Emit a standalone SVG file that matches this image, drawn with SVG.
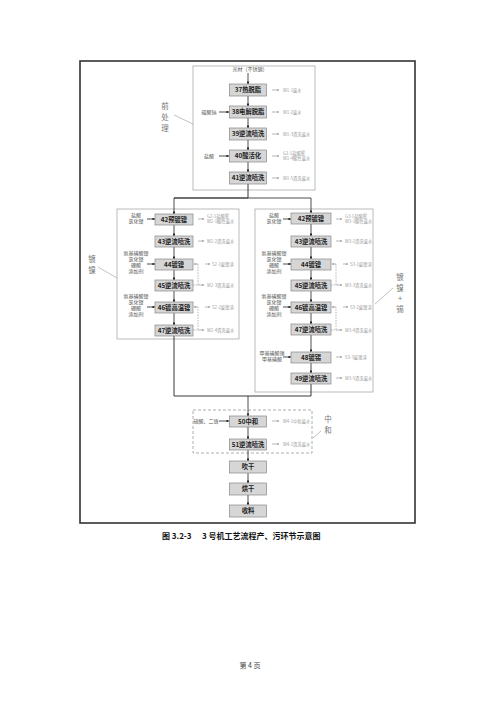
<svg xmlns="http://www.w3.org/2000/svg" width="500" height="707" viewBox="0 0 500 707">
<defs>
<marker id="ah" viewBox="0 0 6 6" refX="5.5" refY="3" markerWidth="3.5" markerHeight="3.5" orient="auto"><path d="M0,0 L6,3 L0,6 Z" fill="#222"/></marker>
<marker id="ahg" viewBox="0 0 6 6" refX="5.5" refY="3" markerWidth="3" markerHeight="3" orient="auto"><path d="M0,0 L6,3 L0,6 Z" fill="#888"/></marker>
</defs>
<style>
.frame{fill:none;stroke:#333;stroke-width:1.6}
.grp{fill:none;stroke:#aaa;stroke-width:0.8}
.grpd{fill:none;stroke:#999;stroke-width:0.8;stroke-dasharray:3,2}
.nb{fill:#d6d6d6;stroke:#888;stroke-width:0.7}
.nt{font-family:"Noto Sans CJK SC","Liberation Serif",serif;font-weight:bold;font-size:6.3px;fill:#222;text-anchor:middle}
.ln{fill:none;stroke:#222;stroke-width:0.9}
.la{fill:none;stroke:#222;stroke-width:0.8;marker-end:url(#ah)}
.ra{fill:none;stroke:#888;stroke-width:0.6;marker-end:url(#ahg)}
.rd{fill:none;stroke:#888;stroke-width:0.6;stroke-dasharray:1.5,1.2}
.lt{font-family:"Noto Sans CJK SC","Liberation Serif",serif;font-size:5px;fill:#555;text-anchor:middle}
.rt{font-family:"Noto Sans CJK SC","Liberation Sans",sans-serif;font-size:4.3px;fill:#999}
.vt{font-family:"Noto Sans CJK SC","Liberation Serif",serif;font-size:7.5px;fill:#777;text-anchor:middle}
.pt{fill:none;stroke:#999;stroke-width:0.6}
.cap{font-family:"Noto Sans CJK SC","Liberation Serif",serif;font-weight:bold;font-size:8px;fill:#111}
</style>
<rect width="500" height="707" fill="#fff"/>
<rect class="frame" x="80" y="61" width="335" height="462"/>

<g id="groups">
<rect class="grp" x="193" y="66" width="122" height="124"/>
<rect class="grp" x="117" y="209" width="122" height="130"/>
<rect class="grp" x="255" y="209" width="118" height="183"/>
<rect class="grpd" x="193" y="410" width="119" height="43"/>
<text class="vt" x="165" y="109">前</text><text class="vt" x="165" y="120">处</text><text class="vt" x="165" y="131">理</text>
<line class="pt" x1="174" y1="115" x2="193" y2="124"/>
<text class="vt" x="92" y="262">镀</text><text class="vt" x="92" y="273">镍</text>
<line class="pt" x1="98" y1="267" x2="117" y2="278"/>
<text class="vt" x="400" y="280">镀</text><text class="vt" x="400" y="291">镍</text><text class="vt" x="400" y="301">+</text><text class="vt" x="400" y="312">锡</text>
<line class="pt" x1="375" y1="304" x2="393" y2="288"/>
<text class="vt" x="328" y="422">中</text><text class="vt" x="328" y="433">和</text>
<line class="pt" x1="313" y1="438" x2="321" y2="431"/>
</g>

<g id="connectors">
<text class="lt" x="250" y="71">光材（不锈钢）</text>
<line class="la" x1="248" y1="73" x2="248" y2="84"/>
<line class="la" x1="248" y1="96" x2="248" y2="106"/>
<line class="la" x1="248" y1="118" x2="248" y2="128"/>
<line class="la" x1="248" y1="140" x2="248" y2="150"/>
<line class="la" x1="248" y1="162" x2="248" y2="172"/>
<polyline class="ln" points="248,184 248,198"/>
<polyline class="la" points="174,198 311,198 311,213"/>
<polyline class="la" points="248,198 174,198 174,214"/>
<line class="la" x1="174" y1="225" x2="174" y2="236"/>
<line class="la" x1="174" y1="247" x2="174" y2="259"/>
<line class="la" x1="174" y1="270" x2="174" y2="280"/>
<line class="la" x1="174" y1="291" x2="174" y2="302"/>
<line class="la" x1="174" y1="313" x2="174" y2="325"/>
<line class="la" x1="311" y1="224" x2="311" y2="236"/>
<line class="la" x1="311" y1="247" x2="311" y2="259"/>
<line class="la" x1="311" y1="270" x2="311" y2="280"/>
<line class="la" x1="311" y1="291" x2="311" y2="302"/>
<line class="la" x1="311" y1="313" x2="311" y2="324"/>
<line class="la" x1="311" y1="335" x2="311" y2="352"/>
<line class="la" x1="311" y1="363" x2="311" y2="373"/>
<polyline class="ln" points="174,336 174,396 311,396 311,384"/>
<line class="la" x1="248" y1="396" x2="248" y2="416"/>
<line class="la" x1="248" y1="427" x2="248" y2="439"/>
<line class="la" x1="248" y1="450" x2="248" y2="461"/>
<line class="la" x1="248" y1="473" x2="248" y2="483"/>
<line class="la" x1="248" y1="495" x2="248" y2="505"/>
<line class="la" x1="219" y1="112" x2="229" y2="112"/>
<line class="la" x1="219" y1="156" x2="229" y2="156"/>
<line class="la" x1="147" y1="219" x2="155" y2="219"/>
<line class="la" x1="147" y1="264" x2="155" y2="264"/>
<line class="la" x1="147" y1="307" x2="155" y2="307"/>
<line class="la" x1="283" y1="219" x2="291" y2="219"/>
<line class="la" x1="283" y1="264" x2="291" y2="264"/>
<line class="la" x1="283" y1="307" x2="291" y2="307"/>
<line class="la" x1="283" y1="357" x2="291" y2="357"/>
<line class="la" x1="219" y1="421" x2="229" y2="421"/>
<line class="ra" x1="272" y1="90" x2="279" y2="90"/>
<line class="ra" x1="272" y1="112" x2="279" y2="112"/>
<line class="ra" x1="272" y1="134" x2="279" y2="134"/>
<line class="ra" x1="272" y1="156" x2="279" y2="156"/>
<line class="ra" x1="272" y1="178" x2="279" y2="178"/>
<line class="ra" x1="198" y1="219" x2="204" y2="219"/>
<line class="ra" x1="198" y1="241" x2="204" y2="241"/>
<line class="ra" x1="205" y1="264" x2="210" y2="264"/>
<line class="ra" x1="198" y1="285" x2="204" y2="285"/>
<line class="ra" x1="205" y1="307" x2="210" y2="307"/>
<line class="ra" x1="198" y1="330" x2="204" y2="330"/>
<polyline class="rd" points="193,285 198,285 198,264"/>
<line class="ra" x1="198" y1="264" x2="194" y2="264"/>
<polyline class="rd" points="193,330 198,330 198,307"/>
<line class="ra" x1="198" y1="307" x2="194" y2="307"/>
<line class="ra" x1="336" y1="219" x2="342" y2="219"/>
<line class="ra" x1="336" y1="241" x2="342" y2="241"/>
<line class="ra" x1="343" y1="264" x2="348" y2="264"/>
<line class="ra" x1="336" y1="285" x2="342" y2="285"/>
<line class="ra" x1="343" y1="307" x2="348" y2="307"/>
<line class="ra" x1="336" y1="330" x2="342" y2="330"/>
<line class="ra" x1="336" y1="357" x2="342" y2="357"/>
<line class="ra" x1="336" y1="378" x2="342" y2="378"/>
<polyline class="rd" points="331,285 336,285 336,264"/>
<line class="ra" x1="336" y1="264" x2="332" y2="264"/>
<polyline class="rd" points="331,330 336,330 336,307"/>
<line class="ra" x1="336" y1="307" x2="332" y2="307"/>
<line class="ra" x1="272" y1="421" x2="279" y2="421"/>
<line class="ra" x1="272" y1="444" x2="279" y2="444"/>
</g>

<g id="labels">
<text class="lt" x="209" y="114">碳酸钠</text>
<text class="lt" x="209" y="158">盐酸</text>
<text class="lt" x="136" y="217">盐酸</text><text class="lt" x="136" y="223">氯化镍</text>
<text class="lt" x="136" y="255">氨基磺酸镍</text><text class="lt" x="136" y="261">氯化镍</text><text class="lt" x="136" y="267">硼酸</text><text class="lt" x="136" y="273">添加剂</text>
<text class="lt" x="136" y="298">氨基磺酸镍</text><text class="lt" x="136" y="304">氯化镍</text><text class="lt" x="136" y="310">硼酸</text><text class="lt" x="136" y="316">添加剂</text>
<text class="lt" x="274" y="217">盐酸</text><text class="lt" x="274" y="223">氯化镍</text>
<text class="lt" x="274" y="255">氨基磺酸镍</text><text class="lt" x="274" y="261">氯化镍</text><text class="lt" x="274" y="267">硼酸</text><text class="lt" x="274" y="273">添加剂</text>
<text class="lt" x="274" y="298">氨基磺酸镍</text><text class="lt" x="274" y="304">氯化镍</text><text class="lt" x="274" y="310">硼酸</text><text class="lt" x="274" y="316">添加剂</text>
<text class="lt" x="272" y="355">甲基磺酸锡</text><text class="lt" x="272" y="361">甲基磺酸</text>
<text class="lt" x="206" y="423">硫酸、二铬</text>
<text class="rt" x="283" y="91.5">W1-1废水</text>
<text class="rt" x="283" y="113.5">W1-2废水</text>
<text class="rt" x="283" y="135.5">W1-3清洗废水</text>
<text class="rt" x="283" y="154.5">G1-1盐酸雾</text><text class="rt" x="283" y="160">W1-4酸性废水</text>
<text class="rt" x="283" y="179.5">W1-5清洗废水</text>
<text class="rt" x="207" y="217.5">G2-1盐酸雾</text><text class="rt" x="207" y="223">W2-1酸性废水</text>
<text class="rt" x="207" y="242.5">W2-2清洗废水</text>
<text class="rt" x="212" y="265.5">S2-1废镍渣</text>
<text class="rt" x="207" y="286.5">W2-3清洗废水</text>
<text class="rt" x="212" y="308.5">S2-2废镍渣</text>
<text class="rt" x="207" y="331.5">W2-4清洗废水</text>
<text class="rt" x="345" y="217.5">G3-1盐酸雾</text><text class="rt" x="345" y="223">W3-1酸性废水</text>
<text class="rt" x="345" y="242.5">W3-2清洗废水</text>
<text class="rt" x="350" y="265.5">S3-1废镍渣</text>
<text class="rt" x="345" y="286.5">W3-3清洗废水</text>
<text class="rt" x="350" y="308.5">S3-2废镍渣</text>
<text class="rt" x="345" y="331.5">W3-4清洗废水</text>
<text class="rt" x="345" y="358.5">S3-3废锡渣</text>
<text class="rt" x="345" y="379.5">W3-5清洗废水</text>
<text class="rt" x="283" y="422.5">W4-1中和废水</text>
<text class="rt" x="283" y="445.5">W4-2清洗废水</text>
</g>

<g id="n37"><rect class="nb" x="229.5" y="84" width="37" height="12"/><text class="nt" x="248" y="92.3">37热脱脂</text></g>
<g id="n38"><rect class="nb" x="229.5" y="106" width="37" height="12"/><text class="nt" x="248" y="114.3">38电解脱脂</text></g>
<g id="n39"><rect class="nb" x="229.5" y="128" width="37" height="12"/><text class="nt" x="248" y="136.3">39逆流喷洗</text></g>
<g id="n40"><rect class="nb" x="229.5" y="150" width="37" height="12"/><text class="nt" x="248" y="158.3">40酸活化</text></g>
<g id="n41"><rect class="nb" x="229.5" y="172" width="37" height="12"/><text class="nt" x="248" y="180.3">41逆流喷洗</text></g>

<g id="l42"><rect class="nb" x="155" y="214" width="38" height="11"/><text class="nt" x="174" y="221.8">42预镀镍</text></g>
<g id="l43"><rect class="nb" x="155" y="236" width="38" height="11"/><text class="nt" x="174" y="243.8">43逆流喷洗</text></g>
<g id="l44"><rect class="nb" x="155" y="259" width="38" height="11"/><text class="nt" x="174" y="266.8">44镀镍</text></g>
<g id="l45"><rect class="nb" x="155" y="280" width="38" height="11"/><text class="nt" x="174" y="287.8">45逆流喷洗</text></g>
<g id="l46"><rect class="nb" x="155" y="302" width="38" height="11"/><text class="nt" x="174" y="309.8">46镀高温镍</text></g>
<g id="l47"><rect class="nb" x="155" y="325" width="38" height="11"/><text class="nt" x="174" y="332.8">47逆流喷洗</text></g>

<g id="r42"><rect class="nb" x="291" y="213" width="40" height="11"/><text class="nt" x="311" y="220.8">42预镀镍</text></g>
<g id="r43"><rect class="nb" x="291" y="236" width="40" height="11"/><text class="nt" x="311" y="243.8">43逆流喷洗</text></g>
<g id="r44"><rect class="nb" x="291" y="259" width="40" height="11"/><text class="nt" x="311" y="266.8">44镀镍</text></g>
<g id="r45"><rect class="nb" x="291" y="280" width="40" height="11"/><text class="nt" x="311" y="287.8">45逆流喷洗</text></g>
<g id="r46"><rect class="nb" x="291" y="302" width="40" height="11"/><text class="nt" x="311" y="309.8">46镀高温镍</text></g>
<g id="r47"><rect class="nb" x="291" y="324" width="40" height="11"/><text class="nt" x="311" y="331.8">47逆流喷洗</text></g>
<g id="r48"><rect class="nb" x="291" y="352" width="40" height="11"/><text class="nt" x="311" y="359.8">48镀锡</text></g>
<g id="r49"><rect class="nb" x="291" y="373" width="40" height="11"/><text class="nt" x="311" y="380.8">49逆流喷洗</text></g>

<g id="n50"><rect class="nb" x="229.5" y="416" width="37" height="11"/><text class="nt" x="248" y="423.8">50中和</text></g>
<g id="n51"><rect class="nb" x="229.5" y="439" width="37" height="11"/><text class="nt" x="248" y="446.8">51逆流喷洗</text></g>
<g id="n52"><rect class="nb" x="229.5" y="461" width="37" height="12"/><text class="nt" x="248" y="469.3">吹干</text></g>
<g id="n53"><rect class="nb" x="229.5" y="483" width="37" height="12"/><text class="nt" x="248" y="491.3">烘干</text></g>
<g id="n54"><rect class="nb" x="229.5" y="505" width="37" height="12"/><text class="nt" x="248" y="513.3">收料</text></g>

<text class="cap" x="162" y="539">图 3.2-3</text>
<text class="cap" x="202" y="539">3 号机工艺流程产、污环节示意图</text>
<text x="250" y="668" font-family="Noto Sans CJK SC, Liberation Serif, serif" font-size="7" fill="#444" text-anchor="middle">第 4 页</text>
</svg>
